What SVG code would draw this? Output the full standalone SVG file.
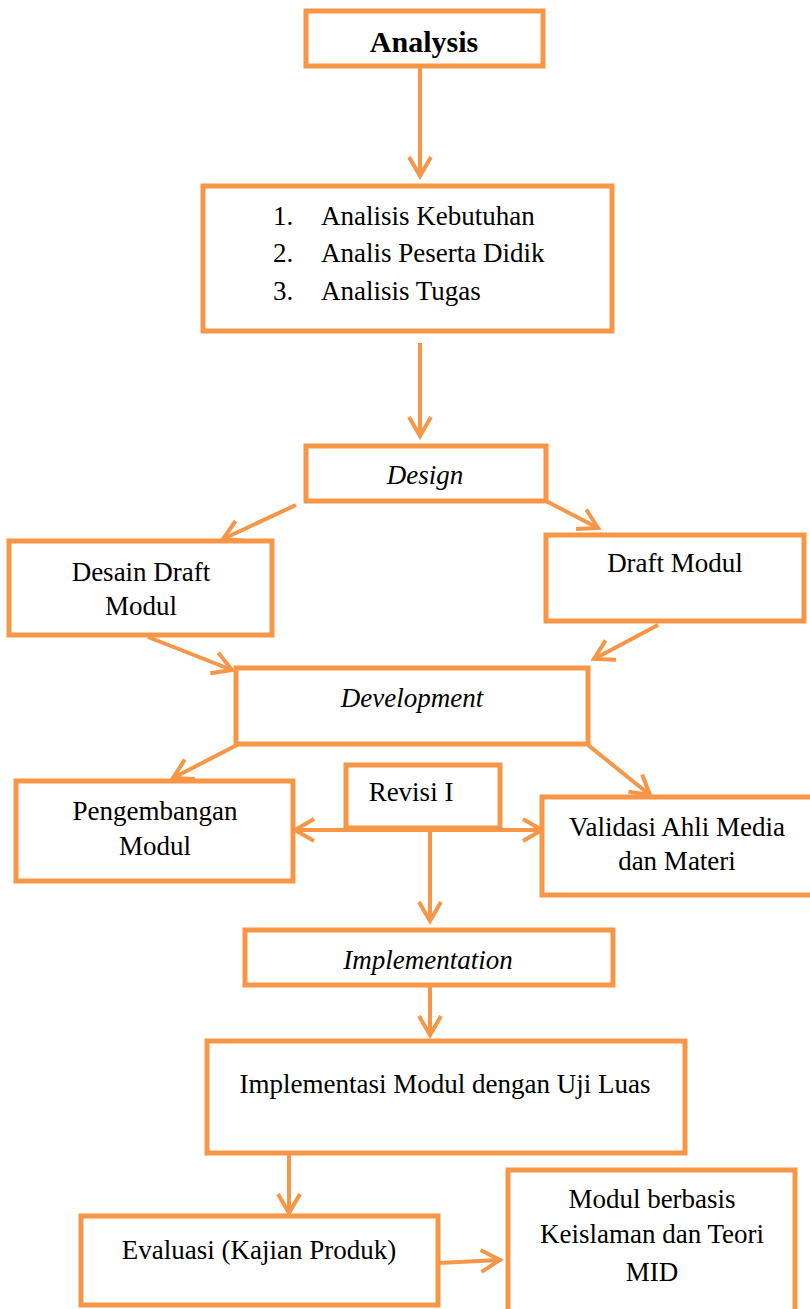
<svg xmlns="http://www.w3.org/2000/svg" width="810" height="1309" viewBox="0 0 810 1309">
<style>
.b{fill:#fff;stroke:#F79646;stroke-width:5}
.t{font-family:"Liberation Serif",serif;font-size:27px;fill:#000;text-anchor:middle}
.i{font-style:italic}
.c line,.c polyline{stroke:#F79646;stroke-width:4;fill:none}
</style>
<defs>
<marker id="a" markerUnits="userSpaceOnUse" viewBox="-22 -13 24 26" refX="0" refY="0" markerWidth="24" markerHeight="26" orient="auto" overflow="visible">
<path d="M-19,-11 L0,0 L-19,11" fill="none" stroke="#F79646" stroke-width="4"/>
</marker>
</defs>
<rect width="810" height="1309" fill="#fff"/>
<g class="c" id="connectors">
<line x1="420" y1="66" x2="420" y2="176" marker-end="url(#a)"/>
<line x1="420" y1="343" x2="420" y2="436" marker-end="url(#a)"/>
<line x1="296" y1="505" x2="223" y2="539" marker-end="url(#a)"/>
<line x1="546" y1="501" x2="598" y2="528" marker-end="url(#a)"/>
<line x1="148" y1="637" x2="232" y2="670" marker-end="url(#a)"/>
<line x1="658" y1="625" x2="594" y2="659" marker-end="url(#a)"/>
<line x1="237" y1="745" x2="173" y2="778" marker-end="url(#a)"/>
<line x1="588" y1="745" x2="650" y2="795" marker-end="url(#a)"/>
<line x1="420" y1="830" x2="295" y2="830" marker-end="url(#a)"/>
<line x1="420" y1="830" x2="542" y2="830" marker-end="url(#a)"/>
<line x1="430" y1="830" x2="430" y2="921" marker-end="url(#a)"/>
<line x1="430" y1="987" x2="430" y2="1035" marker-end="url(#a)"/>
<line x1="289" y1="1154" x2="289" y2="1213" marker-end="url(#a)"/>
<line x1="438" y1="1263" x2="500" y2="1260" marker-end="url(#a)"/>
</g>
<g id="n1"><rect class="b" x="306" y="11" width="237" height="55"/><text class="t" x="424" y="52" style="font-weight:bold;font-size:30px">Analysis</text></g>
<g id="n2"><rect class="b" x="203" y="186" width="409" height="145"/>
<text class="t" style="text-anchor:start" x="273" y="225">1.</text><text class="t" style="text-anchor:start" x="321" y="225">Analisis Kebutuhan</text>
<text class="t" style="text-anchor:start" x="273" y="262">2.</text><text class="t" style="text-anchor:start" x="321" y="262">Analis Peserta Didik</text>
<text class="t" style="text-anchor:start" x="273" y="300">3.</text><text class="t" style="text-anchor:start" x="321" y="300">Analisis Tugas</text></g>
<g id="n3"><rect class="b" x="306" y="446" width="240" height="55"/><text class="t i" x="425" y="484">Design</text></g>
<g id="n4"><rect class="b" x="9" y="541" width="263" height="94"/><text class="t" x="141" y="581">Desain Draft</text><text class="t" x="141" y="615">Modul</text></g>
<g id="n5"><rect class="b" x="546" y="535" width="258" height="86"/><text class="t" x="675" y="572">Draft Modul</text></g>
<g id="n6"><rect class="b" x="236" y="668" width="352" height="76"/><text class="t i" x="412" y="707">Development</text></g>
<g id="n7"><rect class="b" x="16" y="781" width="277" height="100"/><text class="t" x="155" y="820">Pengembangan</text><text class="t" x="155" y="855">Modul</text></g>
<g id="n8"><rect class="b" x="346" y="765" width="154" height="63"/><text class="t" x="411" y="801">Revisi I</text></g>
<g id="n9"><rect class="b" x="542" y="797" width="272" height="98"/><text class="t" x="677" y="836">Validasi Ahli Media</text><text class="t" x="677" y="870">dan Materi</text></g>
<g id="n10"><rect class="b" x="245" y="930" width="368" height="55"/><text class="t i" x="428" y="969">Implementation</text></g>
<g id="n11"><rect class="b" x="207" y="1041" width="478" height="112"/><text class="t" x="445" y="1093">Implementasi Modul dengan Uji Luas</text></g>
<g id="n12"><rect class="b" x="81" y="1216" width="357" height="89"/><text class="t" x="259" y="1259">Evaluasi (Kajian Produk)</text></g>
<g id="n13"><rect class="b" x="508" y="1170" width="287" height="150"/><text class="t" x="652" y="1208">Modul berbasis</text><text class="t" x="652" y="1243">Keislaman dan Teori</text><text class="t" x="652" y="1281">MID</text></g>
</svg>
